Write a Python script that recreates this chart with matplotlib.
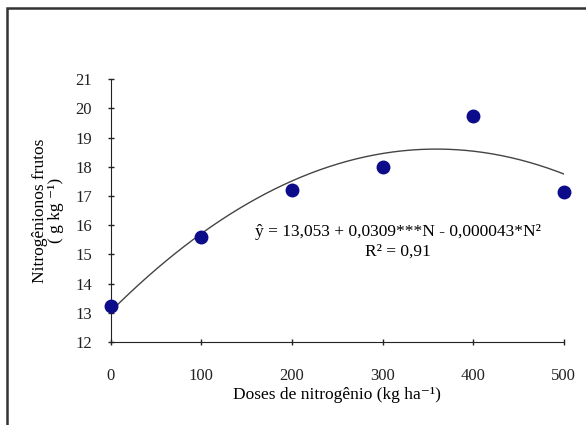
import numpy as np
import matplotlib.pyplot as plt
from matplotlib.patches import Rectangle

# dados
doses = [0, 100, 200, 300, 400, 500]
n_frutos = [13.24, 15.6, 17.2, 18.0, 19.74, 17.14]
# coeficientes da equacao ajustada
b0, b1, b2 = 13.053, 0.0309, -0.000043
x_ticks = [0, 100, 200, 300, 400, 500]
y_ticks = [12, 13, 14, 15, 16, 17, 18, 19, 20, 21]

plt.rcParams['font.family'] = ['Liberation Serif', 'DejaVu Serif']
plt.rcParams['font.size'] = 12.5

fig = plt.figure(figsize=(5.86, 4.25), dpi=100)
ax = fig.add_axes([0.189, 0.195, 0.773, 0.619])

# moldura externa
fig.patches.append(Rectangle((7 / 586, -0.1), 1.1, 1 - 8 / 425 + 0.1,
                             transform=fig.transFigure, fill=False,
                             edgecolor='#333333', linewidth=1.8))

xx = np.linspace(0, 500, 200)
ax.plot(xx, b0 + b1 * xx + b2 * xx ** 2, color='#444444', lw=1.0)
ax.plot(doses, n_frutos, 'o', color='#0c0c8a', markersize=9, clip_on=False, zorder=3)

ax.set_xlim(0, 500)
ax.set_ylim(12, 21)
ax.set_xticks(x_ticks)
ax.set_yticks(y_ticks)
ax.spines['top'].set_visible(False)
ax.spines['right'].set_visible(False)
ax.spines['left'].set_color('#222222')
ax.spines['bottom'].set_color('#222222')
ax.tick_params(direction='inout', length=5, width=1, colors='#222222', labelsize=12)
ax.tick_params(axis='y', pad=11)
ax.tick_params(axis='x', pad=16)

ax.set_xlabel('Doses de nitrogênio (kg ha⁻¹)', labelpad=2)
ax.set_ylabel('Nitrogênionos frutos\n( g kg ⁻¹)', labelpad=8, linespacing=1.0)

ax.text(317, 15.77, 'ŷ = 13,053 + 0,0309***N - 0,000043*N²', ha='center', va='center')
ax.text(317, 15.1, 'R² = 0,91', ha='center', va='center')

fig.savefig('out.png', dpi=100)
